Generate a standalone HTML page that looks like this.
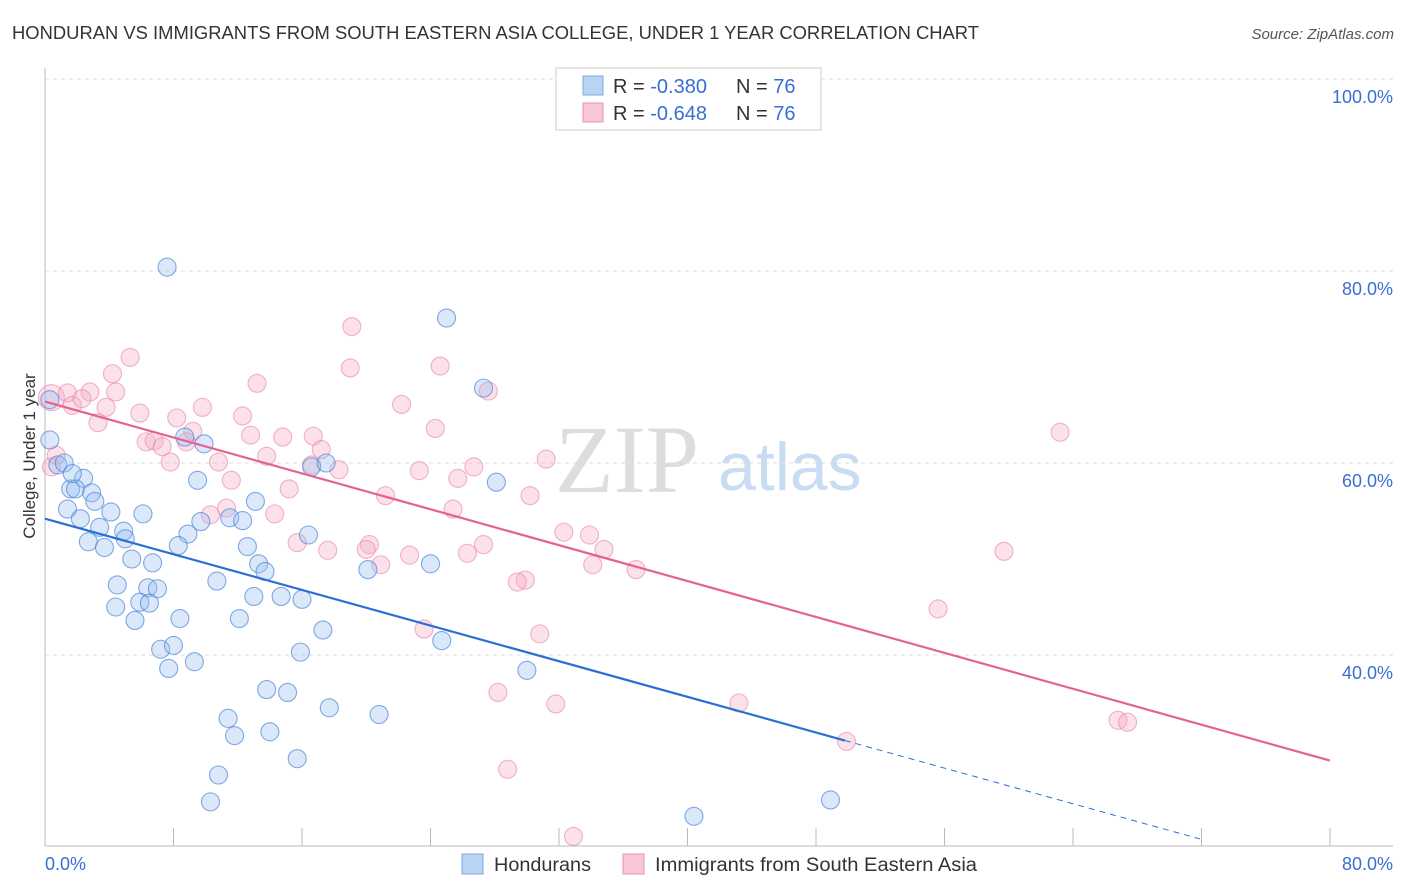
<!DOCTYPE html>
<html><head><meta charset="utf-8"><style>
body{margin:0;background:#fff;font-family:"Liberation Sans",sans-serif}
svg{display:block}
</style></head><body>
<svg id="c" width="1406" height="892">
<text x="12" y="39" font-size="18" fill="#333" textLength="967" lengthAdjust="spacingAndGlyphs">HONDURAN VS IMMIGRANTS FROM SOUTH EASTERN ASIA COLLEGE, UNDER 1 YEAR CORRELATION CHART</text>
<text x="1394" y="39" font-size="15" fill="#555" text-anchor="end" font-style="italic">Source: ZipAtlas.com</text>
<text x="35" y="456" font-size="17" fill="#333" text-anchor="middle" transform="rotate(-90 35 456)">College, Under 1 year</text>
<text x="555" y="492" font-size="96" fill="#ddd" font-family="Liberation Serif,serif">ZIP</text>
<text x="718" y="490" font-size="68" fill="#c9dcf2">atlas</text>
<g id="grid"></g><g id="pts"></g><g id="lines"></g>
<g>
<rect x="556" y="68" width="265" height="62" fill="#fff" stroke="#ccc"/>
<rect x="583" y="76" width="20" height="19" fill="#b9d3f3" stroke="#7fa8de"/>
<rect x="583" y="103" width="20" height="19" fill="#f9c6d5" stroke="#e896b0"/>
<text x="613" y="93" font-size="20" fill="#333">R = <tspan fill="#3a6fd0">-0.380</tspan></text>
<text x="736" y="93" font-size="20" fill="#333">N = <tspan fill="#3a6fd0">76</tspan></text>
<text x="613" y="120" font-size="20" fill="#333">R = <tspan fill="#3a6fd0">-0.648</tspan></text>
<text x="736" y="120" font-size="20" fill="#333">N = <tspan fill="#3a6fd0">76</tspan></text>
</g>
<g>
<rect x="462" y="854" width="21" height="20" fill="#b9d3f3" stroke="#7fa8de"/>
<text x="494" y="871" font-size="19" fill="#333" textLength="97" lengthAdjust="spacingAndGlyphs">Hondurans</text>
<rect x="623" y="854" width="21" height="20" fill="#f9c6d5" stroke="#e896b0"/>
<text x="655" y="871" font-size="19" fill="#333" textLength="322" lengthAdjust="spacingAndGlyphs">Immigrants from South Eastern Asia</text>
</g>
</svg>
<script>
const yTicks=[40,60,80,100];
const xTickLabels=["0.0%","80.0%"];
const blueX=[7.6,25.0,27.3,0.3,0.3,8.7,9.9,0.8,1.2,2.4,1.6,1.9,2.9,3.1,1.4,4.1,6.1,9.5,16.6,17.5,28.1,2.2,3.4,4.9,5.0,2.7,3.7,9.7,11.5,12.3,13.1,8.9,8.3,16.4,12.6,5.4,6.7,13.3,13.7,20.1,24.0,4.5,6.4,7.0,10.7,13.0,14.7,16.0,4.4,5.9,6.5,5.6,8.4,12.1,17.3,7.2,8.0,15.9,24.7,7.7,9.3,30.0,13.8,15.1,17.7,20.8,11.4,11.8,14.0,15.7,10.8,10.3,48.9,40.4,1.7];
const blueY=[80.4,75.1,67.8,66.6,62.4,62.7,62.0,59.8,60.0,58.4,57.3,57.3,56.9,56.0,55.2,54.9,54.7,58.2,59.6,60.0,58.0,54.2,53.3,52.9,52.1,51.8,51.2,53.9,54.3,54.0,56.0,52.6,51.4,52.5,51.3,50.0,49.6,49.5,48.7,48.9,49.5,47.3,47.0,46.9,47.7,46.1,46.1,45.8,45.0,45.5,45.4,43.6,43.8,43.8,42.6,40.6,41.0,40.3,41.5,38.6,39.3,38.4,36.4,36.1,34.5,33.8,33.4,31.6,32.0,29.2,27.5,24.7,24.9,23.2,58.9];
const pinkX=[0.4,1.4,1.7,2.8,3.8,3.3,4.2,5.3,4.4,5.9,2.3,0.7,0.4,19.1,19.0,24.6,13.2,27.6,9.8,12.3,8.2,22.2,9.2,24.3,12.8,14.8,16.7,6.3,6.8,7.3,8.8,17.2,13.8,10.8,7.8,31.2,63.2,16.6,18.3,26.7,23.3,25.7,11.6,15.2,21.2,30.2,11.3,25.4,10.3,14.3,32.3,33.9,15.7,20.2,27.3,20.0,17.6,22.7,26.3,34.8,20.9,34.1,36.8,29.9,29.4,59.7,55.6,23.6,30.8,28.2,31.8,43.2,66.8,67.4,49.9,28.8,32.9];
const pinkY=[66.8,67.3,66.0,67.4,65.8,64.2,69.3,71.0,67.4,65.2,66.7,60.8,59.6,74.2,69.9,70.1,68.3,67.5,65.8,64.9,64.7,66.1,63.3,63.6,62.9,62.7,62.8,62.2,62.3,61.7,62.2,61.4,60.7,60.1,60.1,60.4,63.2,59.8,59.3,59.6,59.2,58.4,58.2,57.3,56.6,56.6,55.3,55.2,54.6,54.7,52.8,52.5,51.7,51.5,51.5,51.0,50.9,50.4,50.6,51.0,49.4,49.4,48.9,47.8,47.6,50.8,44.8,42.7,42.2,36.1,34.9,35.0,33.2,33.0,31.0,28.1,21.1];
const blueFit=[54.2,-0.464];
const pinkFit=[66.4,-0.4675];
const NS="http://www.w3.org/2000/svg";
const X=v=>45+v*1285/80, Y=v=>1039-v*9.6;
function mk(t,a,p){const e=document.createElementNS(NS,t);for(const k in a)e.setAttribute(k,a[k]);p.appendChild(e);return e;}
const grid=document.getElementById('grid');
yTicks.forEach(t=>{
 const l=mk('line',{x1:45,x2:1393,y1:Y(t),y2:Y(t),stroke:'#ddd','stroke-dasharray':'4 4'},grid);
 
 
 const tx=mk('text',{x:1393,y:Y(t)+24,'font-size':18,fill:'#3a6fd0','text-anchor':'end'},grid);tx.textContent=t.toFixed(1)+'%';
 
 
});
mk('line',{x1:45,x2:45,y1:68,y2:846,stroke:'#bbb'},grid);
mk('line',{x1:45,x2:1393,y1:846,y2:846,stroke:'#bbb'},grid);
for(let i=0;i<=10;i++){mk('line',{x1:X(i*8),x2:X(i*8),y1:828,y2:846,stroke:'#bbb'},grid);}
xTickLabels.forEach((s,i)=>{const t=mk('text',{x:i?1393:45,y:870,'font-size':18,fill:'#3a6fd0','text-anchor':i?'end':'start'},grid);t.textContent=s;
 
 });
const pts=document.getElementById('pts');
function draw(xs,ys,fill,stroke,name){xs.forEach((v,i)=>{const c=mk('circle',{cx:X(v),cy:Y(ys[i]),r:(i<3&&v<1)?13:9,fill:fill,stroke:stroke,'stroke-width':1.1},pts);
 
 });}
draw(pinkX,pinkY,'rgba(247,170,195,0.35)','rgba(232,140,170,0.65)','point-sea');
draw(blueX,blueY,'rgba(150,190,240,0.35)','rgba(80,135,215,0.7)','point-honduran');
const lines=document.getElementById('lines');
const b=blueFit,p=pinkFit;
let l=mk('line',{x1:X(0),y1:Y(b[0]),x2:X(49.8),y2:Y(b[0]+b[1]*49.8),stroke:'#2a6fd6','stroke-width':2.2},lines);


l=mk('line',{x1:X(49.8),y1:Y(b[0]+b[1]*49.8),x2:X(71.9),y2:Y(b[0]+b[1]*71.9),stroke:'#2a6fd6','stroke-width':1,'stroke-dasharray':'6 5'},lines);


l=mk('line',{x1:X(0),y1:Y(p[0]),x2:X(80),y2:Y(p[0]+p[1]*80),stroke:'#e5628f','stroke-width':2.2},lines);


</script>
</body></html>
